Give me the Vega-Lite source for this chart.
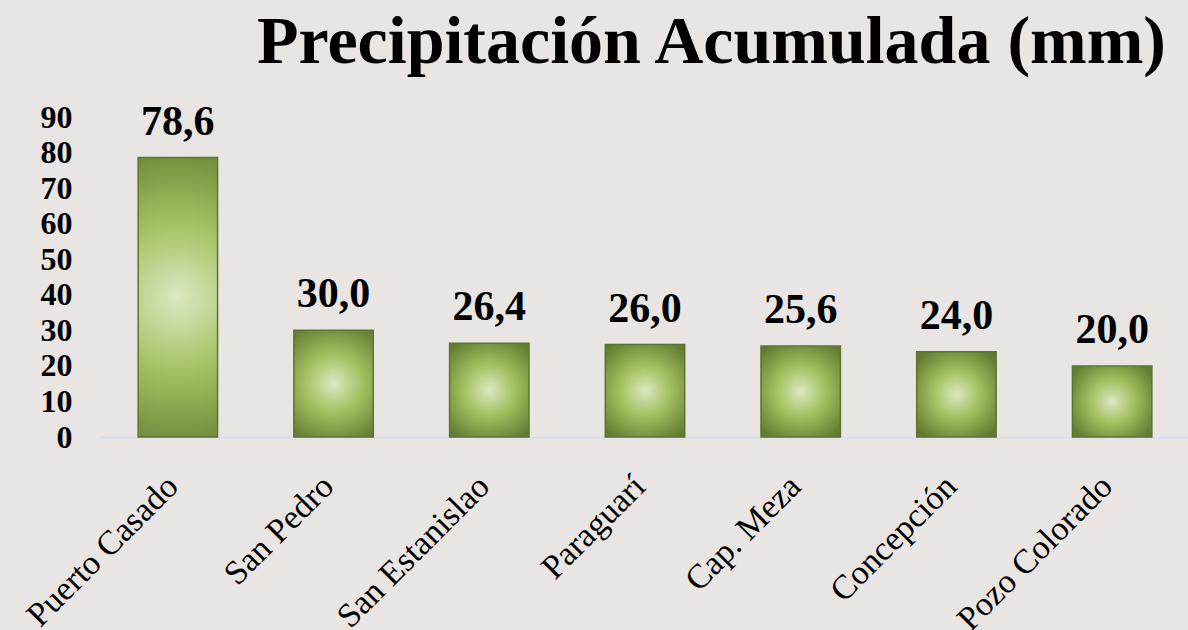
{
  "$schema": "https://vega.github.io/schema/vega-lite/v6.json",
  "autosize": {"type": "none"},
  "padding": {"left": 100, "top": 117, "right": 0, "bottom": 193},
  "width": 1090,
  "height": 320,
  "background": "#E9E5E3",
  "config": {
    "view": {"stroke": null},
    "locale": {"number": {"decimal": ",", "thousands": ".", "grouping": [3], "currency": ["", " €"]}}
  },
  "title": {
    "text": "Precipitación Acumulada (mm)",
    "anchor": "end",
    "orient": "top",
    "font": "Liberation Serif",
    "fontSize": 68,
    "fontWeight": "bold",
    "color": "#000000",
    "offset": 24,
    "dx": -24
  },
  "data": {
    "values": [
      {"estacion": "Puerto Casado", "mm": 78.6},
      {"estacion": "San Pedro", "mm": 30.0},
      {"estacion": "San Estanislao", "mm": 26.4},
      {"estacion": "Paraguarí", "mm": 26.0},
      {"estacion": "Cap. Meza", "mm": 25.6},
      {"estacion": "Concepción", "mm": 24.0},
      {"estacion": "Pozo Colorado", "mm": 20.0}
    ]
  },
  "encoding": {
    "x": {
      "field": "estacion",
      "type": "nominal",
      "sort": null,
      "scale": {"paddingInner": 0.49, "paddingOuter": 0.245},
      "axis": {
        "title": null,
        "labelAngle": -45,
        "labelAlign": "right",
        "labelBaseline": "middle",
        "labelFont": "Liberation Serif",
        "labelFontSize": 34,
        "labelColor": "#000000",
        "labelPadding": 44,
        "labelOffset": -5,
        "labelLimit": 0,
        "ticks": false,
        "domainColor": "#D3E2F0",
        "domainWidth": 2,
        "labelOverlap": false
      }
    },
    "y": {
      "field": "mm",
      "type": "quantitative",
      "scale": {"domain": [0, 90], "nice": false},
      "axis": {
        "title": null,
        "values": [0, 10, 20, 30, 40, 50, 60, 70, 80, 90],
        "grid": false,
        "ticks": false,
        "domain": false,
        "labelFont": "Liberation Serif",
        "labelFontSize": 32,
        "labelFontWeight": "bold",
        "labelColor": "#000000",
        "labelPadding": 28
      }
    }
  },
  "layer": [
    {
      "mark": {
        "type": "bar",
        "stroke": "#5A7530",
        "strokeWidth": 1.5,
        "color": {
          "gradient": "radial",
          "x1": 0.5, "y1": 0.5, "r1": 0,
          "x2": 0.5, "y2": 0.5, "r2": 0.6,
          "stops": [
            {"offset": 0, "color": "#DCE8C2"},
            {"offset": 0.45, "color": "#A3C161"},
            {"offset": 1, "color": "#627D32"}
          ]
        }
      }
    },
    {
      "mark": {
        "type": "text",
        "baseline": "bottom",
        "dy": -14,
        "font": "Liberation Serif",
        "fontSize": 42,
        "fontWeight": "bold",
        "color": "#000000"
      },
      "encoding": {
        "text": {"field": "mm", "type": "quantitative", "format": ".1f"}
      }
    }
  ]
}
